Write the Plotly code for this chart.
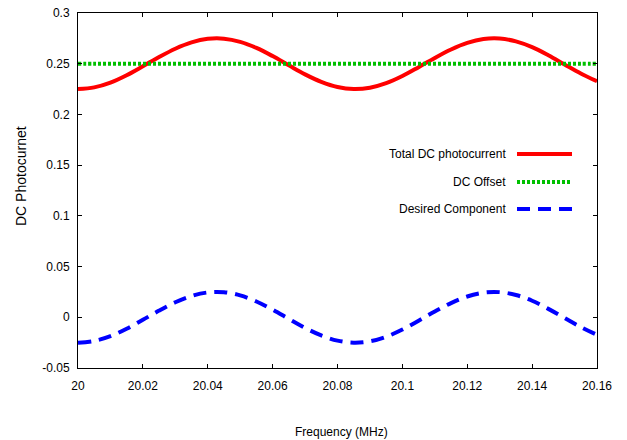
import plotly.graph_objects as go

freq_mhz = [20.000, 20.005, 20.010, 20.015, 20.020, 20.025, 20.030, 20.035, 20.040,
            20.045, 20.050, 20.055, 20.060, 20.065, 20.070, 20.075, 20.080, 20.085,
            20.090, 20.095, 20.100, 20.105, 20.110, 20.115, 20.120, 20.125, 20.130,
            20.135, 20.140, 20.145, 20.150, 20.155, 20.160]

desired_component = [-0.0250, -0.0233, -0.0186, -0.0113, -0.0025, 0.0066, 0.0148, 0.0210, 0.0245,
                     0.0247, 0.0216, 0.0156, 0.0075, -0.0016, -0.0105, -0.0179, -0.0230, -0.0250,
                     -0.0237, -0.0192, -0.0121, -0.0034, 0.0057, 0.0140, 0.0205, 0.0243, 0.0248,
                     0.0220, 0.0163, 0.0083, -0.0007, -0.0096, -0.0173]

total_dc = [0.2250, 0.2267, 0.2314, 0.2387, 0.2475, 0.2566, 0.2648, 0.2710, 0.2745,
            0.2747, 0.2716, 0.2656, 0.2575, 0.2484, 0.2395, 0.2321, 0.2270, 0.2250,
            0.2263, 0.2308, 0.2379, 0.2466, 0.2557, 0.2640, 0.2705, 0.2743, 0.2748,
            0.2720, 0.2663, 0.2583, 0.2493, 0.2404, 0.2327]

dc_offset = [0.25] * len(freq_mhz)

x_ticks = [20, 20.02, 20.04, 20.06, 20.08, 20.1, 20.12, 20.14, 20.16]
x_tick_text = ["20", "20.02", "20.04", "20.06", "20.08", "20.1", "20.12", "20.14", "20.16"]
y_ticks = [-0.05, 0, 0.05, 0.1, 0.15, 0.2, 0.25, 0.3]
y_tick_text = ["-0.05", "0", "0.05", "0.1", "0.15", "0.2", "0.25", "0.3"]

legend_names = ["Total DC photocurrent", "DC Offset", "Desired Component"]
colors = ["#ff0000", "#00c000", "#0000ff"]
dashes = ["solid", "3px,2px", "13px,8px"]

FONT = "Liberation Sans, Arial, sans-serif"
W, H = 627, 440
L, R, T, B = 78, 597, 13, 368


def px(x):
    return (x - L) / (R - L)


def py(y):
    return 1 - (y - T) / (B - T)


fig = go.Figure()
series = [total_dc, dc_offset, desired_component]
for name, ys, c, d in zip(legend_names, series, colors, dashes):
    fig.add_trace(go.Scatter(x=freq_mhz, y=ys, mode="lines", name=name,
                             line=dict(color=c, width=4, dash=d, shape="spline"),
                             showlegend=False, hoverinfo="skip"))

# Legend drawn gnuplot-style: text right-aligned, sample to the right
legend_y = [154, 182, 209]
for name, c, d, yp in zip(legend_names, colors, dashes, legend_y):
    fig.add_annotation(xref="paper", yref="paper", x=px(508), y=py(yp),
                       text=name, showarrow=False, xanchor="right", yanchor="middle",
                       font=dict(family=FONT, size=12, color="#000000"))
    fig.add_shape(type="line", xref="paper", yref="paper",
                  x0=px(517), x1=px(572), y0=py(yp), y1=py(yp),
                  line=dict(color=c, width=4, dash=d))

# Axis titles
fig.add_annotation(xref="paper", yref="paper", x=px(341), y=py(432),
                   text="Frequency (MHz)", showarrow=False, xanchor="center", yanchor="middle",
                   font=dict(family=FONT, size=12, color="#000000"))
fig.add_annotation(xref="paper", yref="paper", x=px(21), y=py(176),
                   text="DC Photocurnet", showarrow=False, textangle=-90,
                   xanchor="center", yanchor="middle",
                   font=dict(family=FONT, size=14, color="#000000"))

axis_common = dict(showgrid=False, zeroline=False, showline=True, linecolor="#000000",
                   linewidth=1, mirror="allticks", ticks="inside", ticklen=4,
                   tickcolor="#000000", automargin=False,
                   tickfont=dict(family=FONT, size=12, color="#000000"))

fig.update_xaxes(range=[20, 20.16], tickvals=x_ticks, ticktext=x_tick_text,
                 ticklabelstandoff=7, **axis_common)
fig.update_yaxes(range=[-0.05, 0.3], tickvals=y_ticks, ticktext=y_tick_text,
                 ticklabelstandoff=5, **axis_common)

fig.update_layout(width=W, height=H, margin=dict(l=L, r=W - R, t=T, b=H - B, autoexpand=False),
                  paper_bgcolor="#ffffff", plot_bgcolor="#ffffff",
                  font=dict(family=FONT, size=12, color="#000000"))

fig.write_html("out.html", config={"displayModeBar": False, "staticPlot": True},
               post_script="document.body.style.margin='0';document.body.style.overflow='hidden';")
